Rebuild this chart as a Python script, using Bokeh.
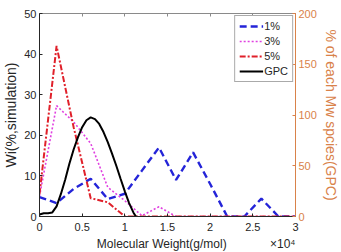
from bokeh.plotting import figure
from bokeh.models import (Range1d, LinearAxis, Legend, LegendItem, Title, FixedTicker,
                          CustomJSTickFormatter)
from bokeh.embed import file_html
from bokeh.resources import INLINE

# Molecular weight grid of the simulation, in units of 10^4 g/mol
mw = [0.0, 0.2, 0.4, 0.6, 0.8, 1.0, 1.2, 1.4, 1.6, 1.8, 2.0, 2.2, 2.4, 2.6, 2.8, 3.0]

# Simulated weight fraction Wi (%) for the three loadings
wi_1pct = [4.8, 3.3, 6.8, 9.3, 4.3, 5.6, 11.3, 17.0, 9.0, 15.8, 8.0, 0.0, 0.0, 4.4, 0.0, 0.0]
wi_3pct = [5.0, 27.3, 23.3, 18.0, 7.2, 3.9, 0.2, 2.4, 0.0, 0.0, 0.0, 0.0, 0.0, 0.0, 0.0, 0.0]
wi_5pct = [5.5, 42.0, 22.0, 4.5, 3.5, 0.0, 0.0, 0.0, 0.0, 0.0, 0.0, 0.0, 0.0, 0.0, 0.0, 0.0]

# Measured GPC distribution (% of each Mw species, right axis)
gpc_mw = [0.0, 0.05, 0.1, 0.15, 0.2, 0.25, 0.3, 0.35, 0.4, 0.45, 0.5, 0.55, 0.6,
          0.65, 0.7, 0.75, 0.8, 0.85, 0.9, 0.95, 1.0, 1.05, 1.1, 1.13]
gpc_pct = [2.0, 3.2, 3.2, 4.0, 10.0, 22.0, 36.0, 52.0, 66.0, 78.0, 88.0, 94.8, 97.6,
           96.0, 91.2, 83.2, 73.2, 62.0, 50.0, 37.2, 24.8, 13.2, 4.0, 0.0]

x_ticks = [0, 0.5, 1, 1.5, 2, 2.5, 3]
left_ticks = [0, 10, 20, 30, 40, 50]
right_ticks = [0, 50, 100, 150, 200]

FONT = "Liberation Sans"
DARK = "#262626"
ORANGE = "#D9824A"
NBSP = "\u00a0"

p = figure(width=341, height=252, output_backend="svg", toolbar_location=None,
           x_range=Range1d(0, 3), y_range=Range1d(0, 50),
           min_border_left=34, min_border_right=46, min_border_top=13, min_border_bottom=20)
p.extra_y_ranges = {"gpc": Range1d(0, 200)}
p.grid.visible = False
p.outline_line_color = "#8a8a8a"
p.background_fill_color = "white"
p.border_fill_color = "white"

# bottom axis
xa = p.xaxis[0]
xa.ticker = FixedTicker(ticks=x_ticks)
# left axis
ya = p.yaxis[0]
ya.ticker = FixedTicker(ticks=left_ticks)
ya.axis_label = "Wi(%,simulation)"

for ax in (xa, ya):
    ax.major_tick_in = 3
    ax.major_tick_out = 0
    ax.minor_tick_line_color = None
    ax.axis_line_color = DARK
    ax.major_tick_line_color = DARK
    ax.major_label_text_color = DARK
    ax.major_label_text_font = FONT
    ax.major_label_text_font_size = "11px"
    ax.axis_label_text_font = FONT
    ax.axis_label_text_font_style = "normal"
    ax.axis_label_text_font_size = "14px"
    ax.axis_label_text_color = DARK
    ax.major_label_standoff = 3
    ax.axis_label_standoff = 2
xa.major_label_standoff = 6

# x-axis title with the 10^4 multiplier at the right end of the axis
p.add_layout(Title(text="Molecular Weight(g/mol)" + NBSP * 13 + "×10⁴", align="right",
                   text_font=FONT, text_font_size="12px", text_font_style="normal",
                   text_color=DARK, standoff=3, offset=0), "below")

# top edge with inward ticks only
top = LinearAxis(ticker=FixedTicker(ticks=x_ticks), major_tick_in=3, major_tick_out=0,
                 minor_tick_line_color=None,
                 formatter=CustomJSTickFormatter(code="return ''"),
                 major_label_standoff=0, axis_line_color="#8a8a8a",
                 major_tick_line_color="#8a8a8a")
p.add_layout(top, "above")

# right axis for the GPC curve
ra = LinearAxis(y_range_name="gpc", ticker=FixedTicker(ticks=right_ticks),
                axis_label="% of each Mw spcies(GPC)")
ra.major_tick_in = 3
ra.major_tick_out = 0
ra.minor_tick_line_color = None
ra.axis_line_color = ORANGE
ra.major_tick_line_color = ORANGE
ra.major_label_text_color = ORANGE
ra.major_label_text_font = FONT
ra.major_label_text_font_size = "11px"
ra.axis_label_text_font = FONT
ra.axis_label_text_font_style = "normal"
ra.axis_label_text_font_size = "14px"
ra.axis_label_text_color = ORANGE
ra.major_label_standoff = 3
ra.axis_label_standoff = 3
p.add_layout(ra, "right")

r1 = p.line(mw, wi_1pct, line_color="#2424d8", line_width=2.4, line_dash="7 4")
r3 = p.line(mw, wi_3pct, line_color="#e040e0", line_width=1.6, line_dash="2 2")
r5 = p.line(mw, wi_5pct, line_color="#e0202a", line_width=2.0, line_dash="6 2 2 2")
rg = p.line(gpc_mw, gpc_pct, y_range_name="gpc", line_color="black", line_width=2.0)

legend = Legend(items=[LegendItem(label="1%", renderers=[r1]),
                       LegendItem(label="3%", renderers=[r3]),
                       LegendItem(label="5%", renderers=[r5]),
                       LegendItem(label="GPC", renderers=[rg])],
                location="top_right", margin=2, padding=4, spacing=3,
                glyph_width=24, glyph_height=12, label_height=12, label_standoff=1,
                label_text_font=FONT, label_text_font_size="11px", label_text_color=DARK,
                border_line_color="#555555", border_line_width=1, background_fill_alpha=1)
p.add_layout(legend, "center")

open("out.html", "w").write(file_html(p, INLINE))
